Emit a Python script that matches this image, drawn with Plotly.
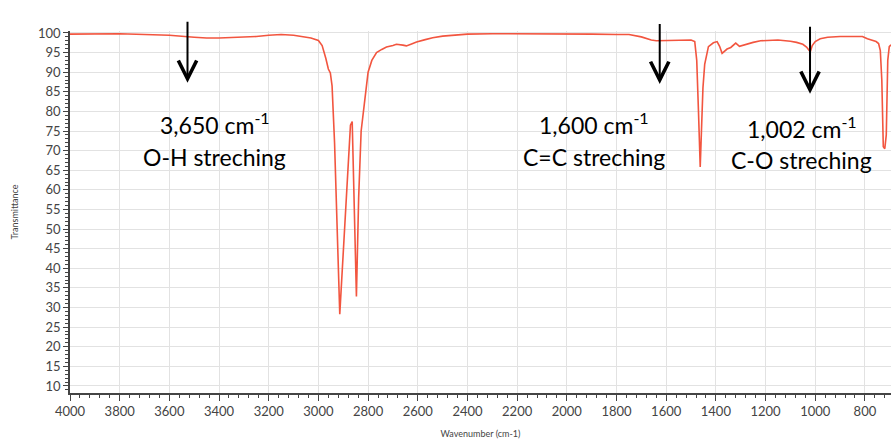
import plotly.graph_objects as go

# IR spectrum
wavenumber = [4000, 3900, 3800, 3700, 3600, 3500, 3450, 3400, 3350, 3300, 3250, 3200, 3150, 3100,
              3060, 3030, 3000, 2985, 2970, 2960, 2952, 2945, 2935, 2925, 2914, 2900, 2885, 2871,
              2864, 2856, 2847, 2838, 2828, 2815, 2800, 2785, 2766, 2745, 2726, 2700, 2686, 2660,
              2646, 2625, 2605, 2570, 2540, 2500, 2450, 2400, 2300, 2200, 2100, 2000, 1900, 1800,
              1750, 1700, 1660, 1640, 1600, 1550, 1500, 1485, 1477, 1470, 1463, 1458, 1452, 1445,
              1430, 1410, 1395, 1385, 1375, 1368, 1355, 1340, 1320, 1305, 1290, 1276, 1250, 1220,
              1180, 1150, 1100, 1075, 1050, 1035, 1025, 1020, 1012, 1000, 980, 950, 900, 850, 810,
              790, 770, 755, 745, 738, 732, 726, 720, 714, 708, 702, 695]
transmittance = [99.7, 99.7, 99.8, 99.6, 99.4, 98.9, 98.7, 98.7, 98.8, 98.9, 99.1, 99.4, 99.6, 99.4,
                 99.1, 98.7, 98.1, 96.8, 93.5, 90.8, 89.8, 86.5, 72.0, 48.0, 28.3, 44.0, 60.0, 76.5,
                 77.4, 56.0, 32.8, 58.0, 75.0, 82.0, 90.0, 93.0, 95.0, 95.8, 96.4, 96.8, 97.1, 96.9,
                 96.7, 97.2, 97.7, 98.3, 98.8, 99.2, 99.5, 99.7, 99.8, 99.8, 99.7, 99.8, 99.7, 99.6,
                 99.6, 99.0, 98.2, 98.0, 98.1, 98.1, 98.2, 97.8, 93.0, 80.0, 65.8, 75.0, 86.0, 92.0,
                 96.5, 97.5, 97.8, 96.6, 94.8, 95.2, 95.9, 96.3, 97.4, 96.6, 96.9, 97.2, 97.6, 98.0,
                 98.2, 98.2, 97.9, 97.6, 97.1, 96.4, 95.6, 95.2, 96.8, 97.8, 98.5, 98.9, 99.1, 99.2, 99.1,
                 98.5, 98.0, 97.8, 97.3, 95.5, 88.0, 71.0, 70.5, 74.0, 93.0, 96.5, 97.0]

# Annotation content
label_lines_1 = ["3,650 cm<sup>-1</sup>", "1,600 cm<sup>-1</sup>", "1,002 cm<sup>-1</sup>"]
label_lines_2 = ["O-H streching", "C=C streching", "C-O streching"]
label_x = [3418, 1891, 1054]
label_y1 = [76.8, 76.8, 75.8]
label_y2 = [68.4, 68.4, 67.6]
arrow_x = [3527, 1626, 1021]
arrow_y = [87.3, 87.0, 84.5]
arrow_len = [70, 69, 76]

x_ticks = list(range(4000, 799, -200))
y_ticks = list(range(10, 101, 5))

fig = go.Figure()
fig.add_trace(go.Scatter(x=wavenumber, y=transmittance, mode="lines",
                         line=dict(color="#f2553f", width=1.6), showlegend=False,
                         hoverinfo="skip"))

annotations = []
for i in range(3):
    annotations.append(dict(x=arrow_x[i], y=arrow_y[i], xref="x", yref="y", ax=0, ay=-arrow_len[i],
                            showarrow=True, arrowhead=5, arrowsize=1.8, arrowwidth=2,
                            arrowcolor="#000000", text=" "))
    annotations.append(dict(x=label_x[i], y=label_y1[i], xref="x", yref="y", showarrow=False,
                            text=label_lines_1[i], font=dict(family="Lato", size=23, color="#000")))
    annotations.append(dict(x=label_x[i], y=label_y2[i], xref="x", yref="y", showarrow=False,
                            text=label_lines_2[i], font=dict(family="Lato", size=23, color="#000")))

fig.update_layout(
    width=891, height=444,
    margin=dict(l=70, r=0, t=31, b=51),
    paper_bgcolor="white", plot_bgcolor="white",
    font=dict(family="Lato", color="#444"),
    annotations=annotations,
)
fig.update_xaxes(
    range=[4000, 695], tickvals=x_ticks, ticktext=[str(v) for v in x_ticks],
    automargin=False,
    showgrid=True, gridcolor="#e2e2e2", gridwidth=1, zeroline=False,
    showline=True, linecolor="#444", linewidth=1.5,
    ticks="outside", ticklen=6, tickcolor="#444", tickwidth=1.2,
    tickfont=dict(size=13, color="#444"),
    minor=dict(dtick=40, tick0=4000, ticks="outside", ticklen=3, tickcolor="#444", showgrid=False),
    title=dict(text="Wavenumber (cm-1)", font=dict(size=9, color="#444"), standoff=12),
)
fig.update_yaxes(
    range=[8.2, 100.5], tickvals=y_ticks, ticktext=[str(v) for v in y_ticks],
    automargin=False,
    showgrid=True, gridcolor="#e2e2e2", gridwidth=1, zeroline=False,
    showline=True, linecolor="#444", linewidth=1.5,
    ticks="outside", ticklen=5, tickcolor="#444", tickwidth=1.2,
    tickfont=dict(size=13, color="#444"),
    minor=dict(dtick=1, tick0=10, ticks="outside", ticklen=3, tickcolor="#444", showgrid=False),
    title=dict(text="Transmittance", font=dict(size=9, color="#444"), standoff=18),
)

fig.write_html("out.html", config={"displayModeBar": False},
               post_script="document.body.style.margin='0';document.body.style.overflow='hidden';")
